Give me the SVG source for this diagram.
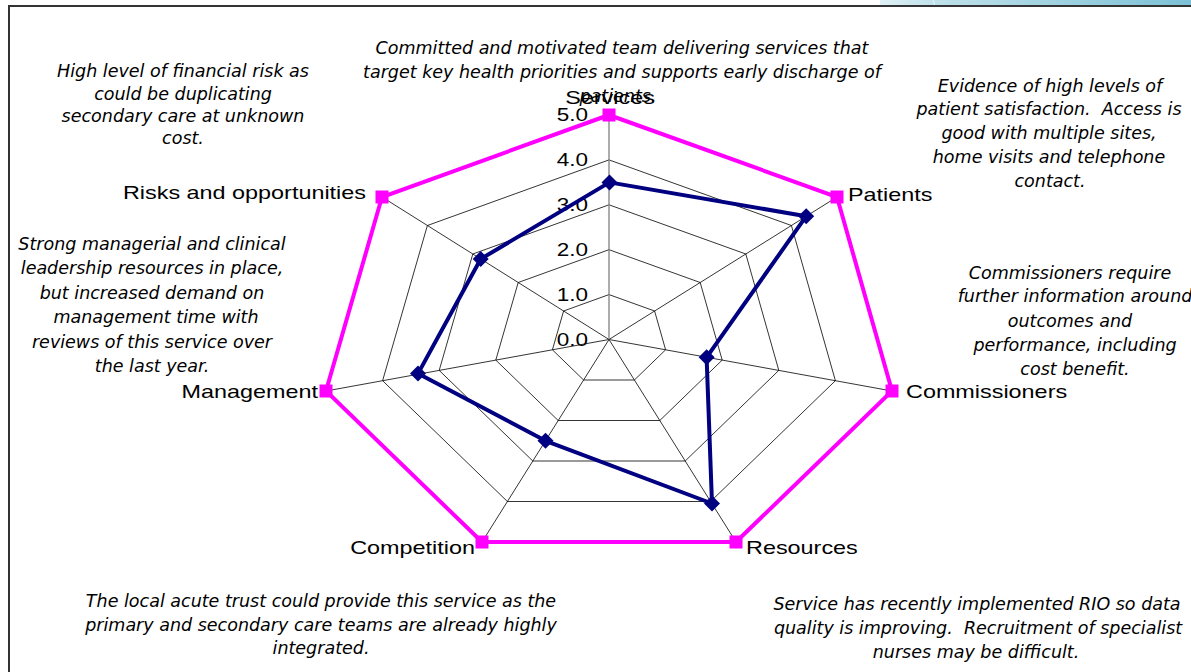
<svg xmlns="http://www.w3.org/2000/svg" width="1191" height="672" viewBox="0 0 1191 672">
<defs>
<linearGradient id="bar" x1="0" y1="0" x2="1" y2="0">
<stop offset="0" stop-color="#dff0f5"/>
<stop offset="0.18" stop-color="#bfe1ea"/>
<stop offset="1" stop-color="#7cc1d5"/>
</linearGradient>
<style>
.note{font-family:"DejaVu Sans","Liberation Sans",sans-serif;font-style:italic;font-size:17.5px;fill:#000;text-anchor:middle}
.lab{font-family:"Liberation Sans",Arial,sans-serif;font-size:18px;fill:#000}
.tick{font-family:"Liberation Sans",Arial,sans-serif;font-size:18px;fill:#000;text-anchor:end}
.grid{fill:none;stroke:#000;stroke-width:0.8}
.vaxis{stroke:#808080;stroke-width:1.3}
.outer{fill:none;stroke:#ff00ff;stroke-width:4;stroke-linejoin:miter}
.data{fill:none;stroke:#000080;stroke-width:4;stroke-linejoin:round}
.sq{fill:#ff00ff}
.dm{fill:#000080}
</style>
</defs>
<rect width="1191" height="672" fill="#fff"/>
<rect x="880" y="0" width="311" height="6" fill="url(#bar)"/>
<line x1="933" y1="0" x2="935" y2="6" stroke="#e8f4f8" stroke-width="1"/>
<path d="M9,672 V6 H1191" fill="none" stroke="#333" stroke-width="2"/>

<g id="grid">
<polygon class="grid" points="609,294.6 654.6,311 665.6,349.8 634.4,380 583.6,380 552.4,349.8 563.6,311"/>
<polygon class="grid" points="609,249.7 700.2,282.5 722.2,360.1 659.8,420.5 558.2,420.5 495.8,360.1 518.2,282.5"/>
<polygon class="grid" points="609,204.8 745.8,254 778.8,370.4 685.2,461 532.8,461 439.2,370.4 472.8,254"/>
<polygon class="grid" points="609,159.9 791.4,225.5 835.4,380.7 710.6,501.5 507.4,501.5 382.6,380.7 427.4,225.5"/>
<polygon class="grid" points="609,115 837,197 892,391 736,542 482,542 326,391 382,197"/>
<line class="grid" x1="609" y1="339.5" x2="837" y2="197"/>
<line class="grid" x1="609" y1="339.5" x2="892" y2="391"/>
<line class="grid" x1="609" y1="339.5" x2="736" y2="542"/>
<line class="grid" x1="609" y1="339.5" x2="482" y2="542"/>
<line class="grid" x1="609" y1="339.5" x2="326" y2="391"/>
<line class="grid" x1="609" y1="339.5" x2="382" y2="197"/>
<line class="vaxis" x1="609" y1="339.5" x2="609" y2="115"/>
</g>

<g id="ticks">
<text class="tick" transform="translate(588,121) scale(1.25,1)">5.0</text>
<text class="tick" transform="translate(588,166) scale(1.25,1)">4.0</text>
<text class="tick" transform="translate(588,211) scale(1.25,1)">3.0</text>
<text class="tick" transform="translate(588,256) scale(1.25,1)">2.0</text>
<text class="tick" transform="translate(588,301) scale(1.25,1)">1.0</text>
<text class="tick" transform="translate(588,345.5) scale(1.25,1)">0.0</text>
</g>

<g id="connectors">
<polygon class="outer" points="609,115 837,197 892,391 736,542 482,542 326,391 382,197"/>
<polygon class="data" points="609.5,182.4 806.2,216.2 706.6,357.3 712,503.5 545.5,440.8 418,373.6 480.7,259"/>
</g>

<g id="markers-target">
<rect class="sq" x="602.5" y="108.5" width="13" height="13"/>
<rect class="sq" x="830.5" y="190.5" width="13" height="13"/>
<rect class="sq" x="885.5" y="384.5" width="13" height="13"/>
<rect class="sq" x="729.5" y="535.5" width="13" height="13"/>
<rect class="sq" x="475.5" y="535.5" width="13" height="13"/>
<rect class="sq" x="319.5" y="384.5" width="13" height="13"/>
<rect class="sq" x="375.5" y="190.5" width="13" height="13"/>
</g>
<g id="markers-score">
<polygon class="dm" points="609.5,174.4 617.5,182.4 609.5,190.4 601.5,182.4"/>
<polygon class="dm" points="806.2,208.2 814.2,216.2 806.2,224.2 798.2,216.2"/>
<polygon class="dm" points="706.6,349.3 714.6,357.3 706.6,365.3 698.6,357.3"/>
<polygon class="dm" points="712,495.5 720,503.5 712,511.5 704,503.5"/>
<polygon class="dm" points="545.5,432.8 553.5,440.8 545.5,448.8 537.5,440.8"/>
<polygon class="dm" points="418,365.6 426,373.6 418,381.6 410,373.6"/>
<polygon class="dm" points="480.7,251 488.7,259 480.7,267 472.7,259"/>
</g>

<g id="node-services">
<text class="lab" text-anchor="middle" transform="translate(610,104) scale(1.3,1)">Services</text>
<text class="note" x="622" y="54">Committed and motivated team delivering services that</text>
<text class="note" x="622" y="78">target key health priorities and supports early discharge of</text>
<text class="note" x="618" y="102">patients.</text>
</g>
<g id="node-patients">
<text class="lab" transform="translate(848,201) scale(1.3,1)">Patients</text>
<text class="note" x="1050" y="92">Evidence of high levels of</text>
<text class="note" x="1049" y="115" xml:space="preserve">patient satisfaction.  Access is</text>
<text class="note" x="1049" y="139">good with multiple sites,</text>
<text class="note" x="1049" y="163">home visits and telephone</text>
<text class="note" x="1050" y="187">contact.</text>
</g>
<g id="node-commissioners">
<text class="lab" transform="translate(906,398) scale(1.3,1)">Commissioners</text>
<text class="note" x="1070" y="279">Commissioners require</text>
<text class="note" x="1075" y="302">further information around</text>
<text class="note" x="1070" y="327">outcomes and</text>
<text class="note" x="1075" y="351">performance, including</text>
<text class="note" x="1075" y="375">cost benefit.</text>
</g>
<g id="node-resources">
<text class="lab" transform="translate(746,554) scale(1.3,1)">Resources</text>
<text class="note" x="977" y="610">Service has recently implemented RIO so data</text>
<text class="note" x="978" y="634" xml:space="preserve">quality is improving.  Recruitment of specialist</text>
<text class="note" x="976" y="658">nurses may be difficult.</text>
</g>
<g id="node-competition">
<text class="lab" text-anchor="end" transform="translate(475,554) scale(1.3,1)">Competition</text>
<text class="note" x="321" y="607">The local acute trust could provide this service as the</text>
<text class="note" x="321" y="631">primary and secondary care teams are already highly</text>
<text class="note" x="321" y="654">integrated.</text>
</g>
<g id="node-management">
<text class="lab" text-anchor="end" transform="translate(318,398) scale(1.3,1)">Management</text>
<text class="note" x="152" y="250">Strong managerial and clinical</text>
<text class="note" x="152" y="274">leadership resources in place,</text>
<text class="note" x="152" y="299">but increased demand on</text>
<text class="note" x="156" y="323">management time with</text>
<text class="note" x="152" y="348">reviews of this service over</text>
<text class="note" x="152" y="372">the last year.</text>
</g>
<g id="node-risks">
<text class="lab" text-anchor="end" transform="translate(366,199) scale(1.3,1)">Risks and opportunities</text>
<text class="note" x="183" y="77">High level of financial risk as</text>
<text class="note" x="183" y="100">could be duplicating</text>
<text class="note" x="183" y="122">secondary care at unknown</text>
<text class="note" x="183" y="144">cost.</text>
</g>
</svg>
